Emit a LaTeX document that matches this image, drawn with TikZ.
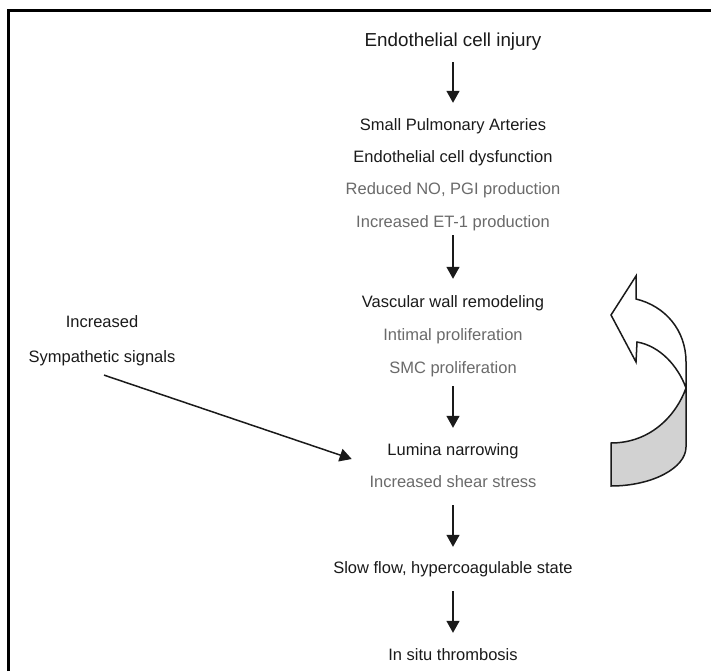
\documentclass[tikz,border=0pt]{standalone}
\usepackage{fontspec}
\setmainfont{Liberation Sans}
\usetikzlibrary{arrows.meta,calc}
\definecolor{ink}{HTML}{1A1A1A}
\definecolor{soft}{HTML}{6A6A6A}
\definecolor{bandgray}{HTML}{D2D2D2}
\begin{document}
\begin{tikzpicture}[x=1pt,y=-1pt,
  lbl/.style={inner sep=0pt,text height=11.8pt,text depth=0pt,font=\fontsize{16.5}{20}\selectfont,text=ink},
  lblsoft/.style={lbl,text=soft},
  ttl/.style={inner sep=0pt,text height=13.5pt,text depth=0pt,font=\fontsize{18.8}{22}\selectfont,text=ink},
  arr/.style={draw=ink,line width=1.5pt,-{Triangle[width=13pt,length=12pt]}},
  frameline/.style={line width=2.7pt,black},
  curvearrow/.style={draw=ink,line width=1.5pt,line join=miter}]
\useasboundingbox (0,0) rectangle (711,671);
% frame
\draw[frameline] (8.7,671) -- (8.7,10.3) -- (711,10.3);
% main column
\node[ttl] (inj) at (453,40) {Endothelial cell injury};
\node[lbl] (spa) at (453,125) {Small Pulmonary Arteries};
\node[lbl] (dys) at (453,157) {Endothelial cell dysfunction};
\node[lblsoft] (red) at (453,189) {Reduced NO, PGI production};
\node[lblsoft] (et) at (453,222) {Increased ET-1 production};
\node[lbl] (vwr) at (453,302) {Vascular wall remodeling};
\node[lblsoft] (imp) at (453,335) {Intimal proliferation};
\node[lblsoft] (smc) at (453,368) {SMC proliferation};
\node[lbl] (lum) at (453,450) {Lumina narrowing};
\node[lblsoft] (shr) at (453,482) {Increased shear stress};
\node[lbl] (slw) at (453,568) {Slow flow, hypercoagulable state};
\node[lbl] (sit) at (453,655) {In situ thrombosis};
% left
\node[lbl] (inc) at (102,322) {Increased};
\node[lbl] (sym) at (102,357) {Sympathetic signals};
% vertical arrows
\draw[arr,shorten <=15.2pt,shorten >=16.1pt] (inj.south) -- (spa.north);
\draw[arr,shorten <=7.1pt,shorten >=17.1pt] (et.south) -- (vwr.north);
\draw[arr,shorten <=12.1pt,shorten >=16.1pt] (smc.south) -- (lum.north);
\draw[arr,shorten <=17.1pt,shorten >=15.1pt] (shr.south) -- (slw.north);
\draw[arr,shorten <=17.1pt,shorten >=16.1pt] (slw.south) -- (sit.north);
% diagonal arrow
\coordinate (dgA) at ($(sym.south)+(2,12)$);
\coordinate (dgB) at ($(lum.west)+(-35.5,9)$);
\draw[arr] (dgA) -- (dgB);
% curved feedback arrow
\fill[fill=bandgray] (686,388) .. controls (676,416) and (650,443) .. (611,443)
  -- (611,486) .. controls (652,486) and (686,468) .. (686,447) -- cycle;
\draw[curvearrow] (686,388) .. controls (676,416) and (650,443) .. (611,443)
  -- (611,486) .. controls (652,486) and (686,468) .. (686,447) -- (686,388);
\filldraw[curvearrow,fill=white] (611,315) -- (636,276) -- (636,299)
  .. controls (665,306) and (686,330) .. (686,362) -- (686,388)
  .. controls (678,366) and (660,346) .. (637,342) -- (636,362) -- cycle;
\end{tikzpicture}
\end{document}
